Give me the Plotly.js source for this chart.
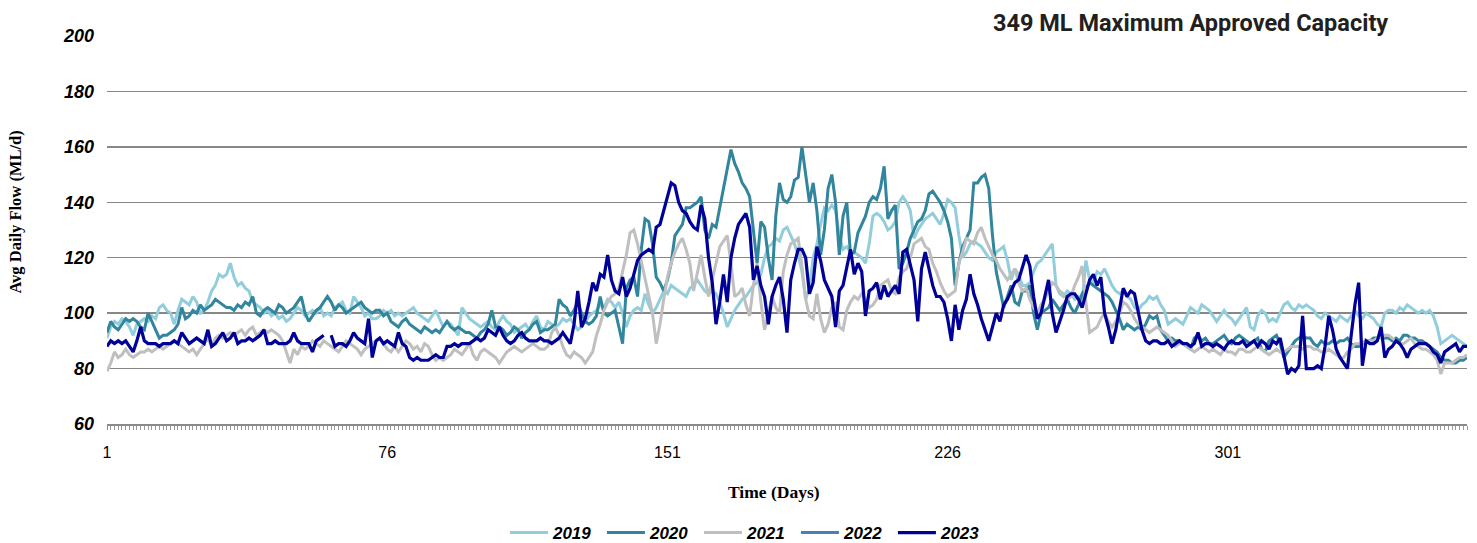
<!DOCTYPE html>
<html><head><meta charset="utf-8">
<script src="https://cdn.plot.ly/plotly-3.0.1.min.js"></script>
<style>html,body{margin:0;padding:0;background:#fff}#chart{width:1477px;height:543px}</style>
</head><body><div id="chart"></div>
<script>
const seriesNames = ['2019','2020','2021','2022','2023'];
const seriesColors = ['#92cddc','#31859c','#bfbfbf','#4a7ebb','#000099'];
const xTickLabels = ['1','76','151','226','301'];

const y2019 = [
91,95,97,96,98,97,95,92,96,97,
98,97,99,98,102,103,101,100,96,101,
105,104,103,106,104,100,101,104,108,110,
114,113,114,118,113,110,111,109,108,104,
103,102,100,101,99,100,98,99,97,98,
100,102,101,99,100,101,100,102,99,100,
99,102,103,104,101,100,106,104,102,99,
100,98,98,99,101,100,101,99,100,99,
100,101,102,100,99,98,97,99,101,98,
95,97,96,94,92,102,100,98,97,96,
95,96,97,95,94,97,99,97,96,93,
94,95,96,94,97,99,95,94,97,96,
95,96,98,97,98,96,94,95,97,99,
100,101,103,102,105,104,102,104,100,95,
99,101,102,101,107,103,100,102,105,108,
107,110,109,108,107,106,109,110,112,110,
108,107,108,107,104,100,95,98,101,103,
105,106,108,110,111,114,120,124,125,127,
126,130,131,128,125,121,115,105,109,120,
125,132,138,137,139,137,128,123,124,122,
122,121,120,118,125,135,136,135,133,130,
131,133,140,142,140,137,127,130,132,134,
135,136,134,132,136,141,140,138,128,120,
122,125,126,125,124,122,120,119,122,123,
124,119,112,116,114,110,110,111,115,118,
119,121,123,125,110,107,106,108,107,105,
106,104,119,112,111,115,114,116,113,110,
108,107,108,106,105,102,101,103,104,106,
105,106,103,101,96,97,98,97,96,99,
102,101,100,103,102,101,99,97,99,101,
99,98,96,98,100,102,95,94,99,101,
100,97,98,97,100,103,104,102,101,103,
102,103,102,101,99,98,100,99,98,97,
99,98,97,99,101,99,98,100,99,98,
96,95,100,101,101,100,102,101,103,102,
101,100,101,100,101,99,95,89,90,91,
92,91,90,89,88];

const y2020 = [
93,97,95,94,96,98,97,98,97,95,
94,100,97,94,91,92,92,93,94,96,
102,98,99,101,100,103,101,102,103,105,
104,103,102,102,101,103,102,104,103,106,
100,99,101,102,101,100,103,102,100,101,
102,104,106,100,97,99,101,102,104,106,
104,101,103,102,100,101,102,103,104,102,
101,100,101,101,99,100,97,96,95,97,
98,96,95,94,93,95,94,93,94,93,
95,97,95,94,95,94,93,93,92,91,
93,94,96,101,95,95,94,92,93,95,
94,91,93,94,96,97,93,94,94,95,
96,105,103,102,99,101,104,100,97,96,
97,99,106,100,99,100,101,95,89,109,
112,113,106,123,134,133,125,113,111,108,
112,118,128,130,132,138,138,139,140,142,
130,127,132,131,138,146,152,159,154,151,
147,145,142,130,118,133,131,120,112,135,
147,141,140,142,148,149,160,150,140,147,
137,121,130,145,150,140,121,135,140,121,
122,129,132,135,140,142,141,145,153,134,
137,139,116,118,122,127,130,133,134,137,
143,144,142,140,137,133,127,110,118,124,
127,130,147,147,149,150,145,128,115,108,
102,106,110,104,103,108,108,110,100,94,
100,101,102,105,103,101,103,105,102,100,
103,107,109,111,110,109,108,107,106,104,
101,98,94,96,95,94,95,94,96,99,
98,99,94,92,90,91,90,90,89,88,
87,91,92,90,91,89,89,90,91,92,
90,89,91,92,91,90,89,90,91,87,
86,90,91,92,89,84,86,88,90,91,
92,91,91,89,88,90,89,89,90,89,
90,90,91,89,88,88,89,90,90,91,
91,92,91,91,90,91,90,92,92,91,
91,90,90,89,88,87,86,84,83,83,
82,82,83,83,84];

const y2021 = [
79,82,86,84,85,87,85,84,85,86,
86,87,86,87,88,87,88,89,90,89,
88,87,86,87,85,87,89,91,88,91,
92,91,92,93,92,93,94,92,94,95,
92,93,94,93,94,93,92,90,86,82,
87,85,88,87,88,90,89,88,90,89,
88,87,86,88,90,89,88,87,85,87,
88,89,90,91,89,87,86,88,86,88,
90,89,87,88,86,89,88,85,83,84,
83,84,85,87,86,85,87,89,85,83,
86,87,86,85,84,82,84,86,87,88,
87,86,87,88,89,88,87,87,88,93,
95,92,88,85,84,86,85,84,82,84,
86,92,96,101,104,106,107,109,115,121,
129,130,125,119,113,107,100,89,96,105,
113,118,122,125,127,123,118,108,114,121,
113,106,112,118,124,126,128,118,106,107,
109,103,99,110,118,104,94,100,106,102,
100,115,121,125,126,127,117,105,99,98,
107,98,93,96,102,104,95,94,101,104,
106,105,107,105,102,103,105,110,111,112,
108,107,113,115,116,120,125,126,127,124,
123,118,115,111,108,106,107,108,118,122,
127,126,125,129,131,127,124,121,119,116,
114,112,114,116,111,108,109,105,102,100,
103,105,108,111,110,108,107,105,106,110,
113,117,104,93,94,95,98,100,97,95,
97,100,104,103,101,98,96,95,94,93,
94,95,94,93,92,90,88,89,89,88,
87,86,87,88,87,86,87,86,85,87,
86,86,85,87,87,86,86,87,88,87,
86,85,86,87,86,86,87,88,88,88,
87,88,88,87,87,86,86,87,86,85,
84,84,86,87,89,89,89,90,90,90,
91,91,92,92,91,90,89,89,90,91,
89,88,87,87,86,85,83,78,82,82,
82,83,84,84,85];

// 2022: no readings drawn in the chart (legend entry only)
const y2022 = [null];

const y2023 = [
88,90,89,90,89,90,88,86,90,95,
90,89,89,89,88,89,89,89,90,89,
93,91,89,90,91,90,89,94,88,89,
91,93,90,91,93,89,90,90,91,90,
91,92,94,89,89,90,89,89,89,90,
93,90,89,89,89,86,90,91,92,null,
92,88,89,89,88,90,93,91,90,89,
98,84,90,91,89,90,89,88,93,89,
88,84,83,84,83,83,83,84,85,84,
84,88,88,89,88,89,89,89,90,91,
90,91,94,93,92,95,92,90,89,90,
92,93,91,90,90,90,91,90,90,89,
90,91,93,91,89,96,108,95,98,104,
111,108,114,113,121,112,108,107,113,106,
109,114,119,121,122,123,122,131,132,137,
142,147,146,140,137,136,133,131,130,139,
134,120,111,96,104,114,104,120,127,132,
134,136,131,112,117,110,106,96,106,110,
113,105,93,112,118,123,123,120,107,111,
124,119,112,109,106,95,108,110,116,123,
114,118,115,99,108,109,111,105,110,106,
108,110,107,122,123,118,112,97,116,122,
116,110,106,106,104,98,90,103,94,101,
105,114,107,103,98,94,90,95,100,97,
103,105,108,111,112,117,121,117,106,98,
100,106,112,100,93,97,101,106,107,107,
105,102,107,112,114,110,113,100,95,89,
94,102,109,106,108,107,100,94,90,89,
90,90,89,89,90,88,89,90,89,89,
88,89,93,88,89,89,88,89,88,87,
89,90,89,89,90,88,89,90,88,90,
89,87,90,89,91,84,78,80,79,81,
99,80,80,80,81,80,88,99,94,87,
84,82,80,92,103,111,81,90,89,89,
90,95,84,87,88,90,89,87,84,87,
88,89,89,89,88,86,85,82,86,87,
88,89,86,88,88];

const allValues = [y2019, y2020, y2021, y2022, y2023];
const dayOf = arr => arr.map((_, i) => i + 1);

const traces = allValues.map((vals, k) => ({
  type: 'scatter', mode: 'lines',
  name: seriesNames[k],
  x: dayOf(vals), y: vals,
  connectgaps: false,
  showlegend: true,
  line: {color: seriesColors[k], width: k === 4 ? 3.2 : 3}
}));

const tickVals = xTickLabels.map(Number);

const layout = {
  width: 1477, height: 543,
  margin: {l: 107, r: 10, t: 36, b: 119, autoexpand: false},
  paper_bgcolor: '#ffffff', plot_bgcolor: '#ffffff',
  showlegend: true,
  legend: {
    orientation: 'h', x: 0.2926, xanchor: 'left', y: -0.281, yanchor: 'middle',
    font: {family: 'Liberation Sans, Arial, sans-serif', size: 17, color: '#000', weight: 'bold', style: 'italic'},
    entrywidth: 44, entrywidthmode: 'pixels', itemwidth: 38, traceorder: 'normal'
  },
  xaxis: {
    range: [1, 365], tickmode: 'array', tickvals: tickVals, ticktext: xTickLabels,
    ticks: 'outside', ticklen: 4, tickcolor: '#8a8a8a', tickwidth: 1,
    showline: true, linecolor: '#8a8a8a', linewidth: 1.5,
    showgrid: false, zeroline: false,
    tickfont: {family: 'Liberation Sans, Arial, sans-serif', size: 16, color: '#000'},
    ticklabelstandoff: 9,
    minor: {tick0: 1, dtick: 1, ticks: 'outside', ticklen: 4, tickcolor: '#9a9a9a', tickwidth: 1, showgrid: false}
  },
  yaxis: {
    range: [60, 200], tickmode: 'linear', tick0: 60, dtick: 20,
    showgrid: true, gridcolor: '#878787', gridwidth: 1.3,
    zeroline: false, showline: false, ticks: '',
    tickfont: {family: 'Liberation Sans, Arial, sans-serif', size: 18, color: '#000', weight: 'bold', style: 'italic'},
    ticklabelstandoff: 12
  },
  annotations: [
    {text: '349 ML Maximum Approved Capacity', xref: 'paper', yref: 'paper', x: 0.797, y: 1.034,
     xanchor: 'center', yanchor: 'middle', showarrow: false,
     font: {family: 'Roboto, sans-serif', size: 23.5, color: '#231f20', weight: 'bold'}},
    {text: 'Avg Daily Flow (ML/d)', xref: 'paper', yref: 'paper', x: -0.0676, y: 0.545,
     xanchor: 'center', yanchor: 'middle', showarrow: false, textangle: -90,
     font: {family: 'Liberation Serif, Times New Roman, serif', size: 16.5, color: '#000', weight: 'bold'}},
    {text: 'Time (Days)', xref: 'paper', yref: 'paper', x: 0.4908, y: -0.175,
     xanchor: 'center', yanchor: 'middle', showarrow: false,
     font: {family: 'Liberation Serif, Times New Roman, serif', size: 17.5, color: '#000', weight: 'bold'}}
  ]
};

Plotly.newPlot('chart', traces, layout, {displayModeBar: false, staticPlot: true});
</script>
</body></html>
